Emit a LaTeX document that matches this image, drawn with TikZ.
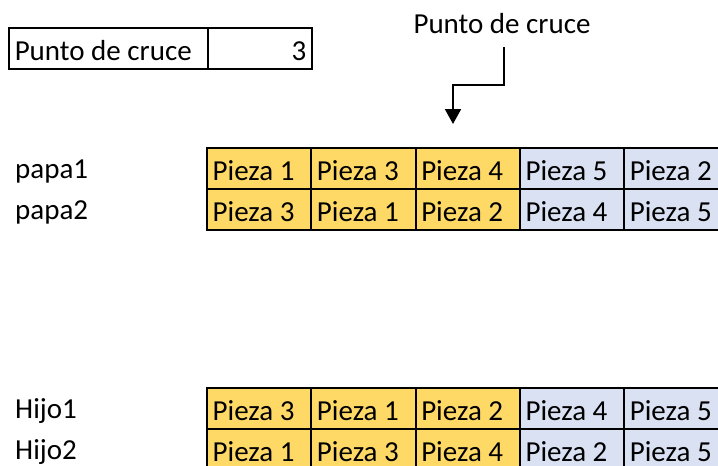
\documentclass[tikz,border=0pt]{standalone}
\usepackage{fontspec}
\setmainfont{Carlito}
\usetikzlibrary{arrows.meta}
\definecolor{gold}{HTML}{FFD966}
\definecolor{paleblue}{HTML}{D9E1F2}
% left- or right-aligned cell content with natural word spacing
\newcommand\lefttext[2][93pt]{\makebox[#1][l]{#2}}
\newcommand\righttext[2][93pt]{\makebox[#1][r]{#2}}
\begin{document}
\begin{tikzpicture}[x=1pt,y=-1pt,
  font=\fontsize{29pt}{34pt}\selectfont,
  cell/.style={draw=black,line width=2pt,rectangle,anchor=north west,
    minimum width=104.3pt,minimum height=41pt,inner ysep=0pt,inner xsep=5.5pt,
    text height=28pt,text depth=5pt},
  keep/.style={cell,fill=gold},
  swap/.style={cell,fill=paleblue},
  rowlabel/.style={anchor=base west,inner sep=0pt},
  connector/.style={line width=2pt,-{Triangle[width=16pt,length=15pt]}}]
\clip (0,0) rectangle (718,466);
\fill[white] (0,0) rectangle (718,466);

% crossover point box
\node[cell,minimum width=198.5pt] (pclbl) at (8,27) {\lefttext[187pt]{Punto de cruce}};
\node[cell,minimum width=104.8pt] (pcval) at (206.5,27) {\righttext{3}};

% crossover marker
\node[anchor=base,inner sep=0pt] (pctitle) at (502,33) {Punto de cruce};
\coordinate (mstart) at (504,47);
\coordinate (mbend1) at (504,85);
\coordinate (mbend2) at (453,85);
\coordinate (mtip) at (453,124);
\draw[connector] (mstart) -- (mbend1) -- (mbend2) -- (mtip);

% parents
\node[rowlabel] (p1) at (15,178) {papa1};
\node[rowlabel] (p2) at (15,219) {papa2};
\node[keep] (p1a) at (206,147) {\lefttext{Pieza 1}};
\node[keep] (p1b) at (310.3,147) {\lefttext{Pieza 3}};
\node[keep] (p1c) at (414.6,147) {\lefttext{Pieza 4}};
\node[swap] (p1d) at (518.9,147) {\lefttext{Pieza 5}};
\node[swap] (p1e) at (623.2,147) {\lefttext{Pieza 2}};
\node[keep] (p2a) at (206,188) {\lefttext{Pieza 3}};
\node[keep] (p2b) at (310.3,188) {\lefttext{Pieza 1}};
\node[keep] (p2c) at (414.6,188) {\lefttext{Pieza 2}};
\node[swap] (p2d) at (518.9,188) {\lefttext{Pieza 4}};
\node[swap] (p2e) at (623.2,188) {\lefttext{Pieza 5}};

% children
\node[rowlabel] (h1) at (15,418) {Hijo1};
\node[rowlabel] (h2) at (15,459) {Hijo2};
\node[keep] (h1a) at (206,387) {\lefttext{Pieza 3}};
\node[keep] (h1b) at (310.3,387) {\lefttext{Pieza 1}};
\node[keep] (h1c) at (414.6,387) {\lefttext{Pieza 2}};
\node[swap] (h1d) at (518.9,387) {\lefttext{Pieza 4}};
\node[swap] (h1e) at (623.2,387) {\lefttext{Pieza 5}};
\node[keep] (h2a) at (206,428) {\lefttext{Pieza 1}};
\node[keep] (h2b) at (310.3,428) {\lefttext{Pieza 3}};
\node[keep] (h2c) at (414.6,428) {\lefttext{Pieza 4}};
\node[swap] (h2d) at (518.9,428) {\lefttext{Pieza 2}};
\node[swap] (h2e) at (623.2,428) {\lefttext{Pieza 5}};
\end{tikzpicture}
\end{document}
